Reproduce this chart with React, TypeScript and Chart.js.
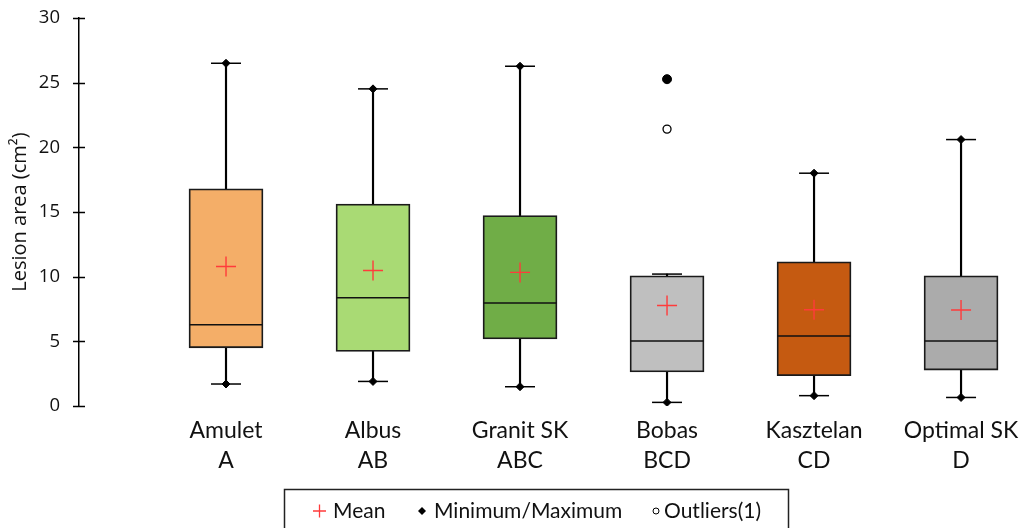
import React, { useEffect, useRef } from 'react';
import { Chart, registerables } from 'chart.js';

Chart.register(...registerables);

// ---- data ----
const categories = ['Amulet', 'Albus', 'Granit SK', 'Bobas', 'Kasztelan', 'Optimal SK'];
const groupLetters = ['A', 'AB', 'ABC', 'BCD', 'CD', 'D'];
const minimum = [1.7, 1.9, 1.49, 0.28, 0.8, 0.66];
const q1 = [4.5, 4.22, 5.18, 2.63, 2.34, 2.78];
const median = [6.28, 8.37, 7.96, 5.02, 5.41, 5.02];
const q3 = [16.79, 15.61, 14.73, 10.07, 11.15, 10.07];
const upperWhisker = [26.5, 24.52, 26.27, 10.2, 18.0, 20.6];
const maximum = [26.5, 24.52, 26.27, 25.27, 18.0, 20.6];
const mean = [10.79, 10.48, 10.33, 7.77, 7.44, 7.42];
const outlierCategory = [4];
const outlierValues = [21.41];
const yTicks = [0, 5, 10, 15, 20, 25, 30];
const boxColors = ['#F4AE68', '#A9DA74', '#70AD47', '#BFBFBF', '#C55A11', '#ABABAB'];

const xs = categories.map((_, i) => i + 1);
const pts = (vals: number[]) => vals.map((y, i) => ({ x: xs[i], y }));

const LABEL_FONT = 'Lato';
const AXIS_FONT = '"Open Sans"';

const yTickMarks = {
  id: 'yTickMarks',
  afterDraw(chart: any) {
    const { ctx, chartArea, scales } = chart;
    const y = scales.y;
    ctx.save();
    ctx.strokeStyle = '#000';
    ctx.lineWidth = 1.5;
    yTicks.forEach((v) => {
      const py = Math.round(y.getPixelForValue(v)) + 0.5;
      ctx.beginPath();
      ctx.moveTo(chartArea.left - 6, py);
      ctx.lineTo(chartArea.left + 6, py);
      ctx.stroke();
    });
    ctx.restore();
  },
};

const boxLegend = {
  id: 'boxLegend',
  afterDraw(chart: any) {
    const { ctx } = chart;
    const ds = chart.data.datasets;
    const meanLabel = ds.find((d: any) => d.legendKey === 'mean').label;
    const mmLabel = ds.find((d: any) => d.legendKey === 'minmax').label;
    const outLabel = ds.find((d: any) => d.legendKey === 'outlier').label;
    const cy = 511;
    ctx.save();
    ctx.strokeStyle = '#222';
    ctx.lineWidth = 1.5;
    ctx.strokeRect(284.5, 489.5, 504, 60);
    ctx.font = `21px ${LABEL_FONT}`;
    ctx.fillStyle = '#111';
    ctx.textBaseline = 'middle';
    ctx.textAlign = 'left';
    // Mean
    ctx.strokeStyle = '#FF3B3B';
    ctx.lineWidth = 1.3;
    ctx.beginPath();
    ctx.moveTo(313, cy);
    ctx.lineTo(326, cy);
    ctx.moveTo(319.5, cy - 6.5);
    ctx.lineTo(319.5, cy + 6.5);
    ctx.stroke();
    ctx.fillText(meanLabel, 333, cy);
    // Min / Max
    ctx.fillStyle = '#000';
    ctx.beginPath();
    ctx.moveTo(422, cy - 4);
    ctx.lineTo(426, cy);
    ctx.lineTo(422, cy + 4);
    ctx.lineTo(418, cy);
    ctx.closePath();
    ctx.fill();
    ctx.fillStyle = '#111';
    ctx.fillText(mmLabel, 434, cy);
    // Outliers
    ctx.strokeStyle = '#000';
    ctx.lineWidth = 1;
    ctx.beginPath();
    ctx.arc(656, cy, 3, 0, Math.PI * 2);
    ctx.stroke();
    ctx.fillText(outLabel, 664, cy);
    ctx.restore();
  },
};

export default function App() {
  const canvasRef = useRef<HTMLCanvasElement | null>(null);

  useEffect(() => {
    document.body.style.margin = '0';
    const canvas = canvasRef.current;
    if (!canvas) return;

    const maxAsDiamond = maximum
      .map((m, i) => ({ x: xs[i], y: m, keep: m === upperWhisker[i] }))
      .filter((p) => p.keep)
      .map(({ x, y }) => ({ x, y }));
    const maxAsOutlier = maximum
      .map((m, i) => ({ x: xs[i], y: m, keep: m > upperWhisker[i] }))
      .filter((p) => p.keep)
      .map(({ x, y }) => ({ x, y }));

    const chart = new Chart(canvas, {
      type: 'bar',
      data: {
        datasets: [
          {
            type: 'scatter',
            label: 'Mean',
            legendKey: 'mean',
            data: pts(mean),
            pointStyle: 'cross',
            pointRadius: 10,
            pointBorderColor: '#FF3B3B',
            pointBorderWidth: 1.4,
            order: 1,
          } as any,
          {
            type: 'scatter',
            label: 'Minimum/Maximum',
            legendKey: 'minmax',
            data: [...pts(minimum), ...maxAsDiamond],
            pointStyle: 'rectRot',
            pointRadius: 4,
            pointBackgroundColor: '#000',
            pointBorderColor: '#000',
            pointBorderWidth: 1,
            order: 2,
          } as any,
          {
            type: 'scatter',
            label: 'Outliers(1)',
            legendKey: 'outlier',
            data: outlierValues.map((y, i) => ({ x: outlierCategory[i], y })),
            pointStyle: 'circle',
            pointRadius: 4,
            pointBackgroundColor: '#fff',
            pointBorderColor: '#000',
            pointBorderWidth: 1.3,
            order: 3,
          } as any,
          {
            type: 'scatter',
            label: 'Maximum (outlier)',
            data: maxAsOutlier,
            pointStyle: 'circle',
            pointRadius: 4.5,
            pointBackgroundColor: '#000',
            pointBorderColor: '#000',
            pointBorderWidth: 1,
            order: 3,
          } as any,
          {
            type: 'scatter',
            label: 'Median',
            data: pts(median),
            pointStyle: 'line',
            pointRadius: 36.5,
            pointBorderColor: '#111',
            pointBorderWidth: 1.6,
            order: 4,
          } as any,
          {
            type: 'scatter',
            label: 'Whisker caps',
            data: [...pts(minimum), ...pts(upperWhisker)],
            pointStyle: 'line',
            pointRadius: 15,
            pointBorderColor: '#000',
            pointBorderWidth: 1.5,
            order: 6,
          } as any,
          {
            type: 'bar',
            label: 'Box',
            data: xs.map((x, i) => ({ x, y: [q1[i], q3[i]] })),
            backgroundColor: boxColors,
            borderColor: '#1a1a1a',
            borderWidth: 1.8,
            borderSkipped: false,
            barThickness: 74,
            stack: 'box',
            order: 10,
          } as any,
          {
            type: 'bar',
            label: 'Whisker',
            data: xs.map((x, i) => ({ x, y: [minimum[i], upperWhisker[i]] })),
            backgroundColor: '#000',
            borderWidth: 0,
            barThickness: 1.5,
            stack: 'box',
            order: 20,
          } as any,
        ],
      },
      options: {
        animation: false,
        responsive: true,
        maintainAspectRatio: false,
        layout: { autoPadding: false, padding: { top: 18, right: 10, left: 0, bottom: 0 } },
        plugins: {
          legend: { display: false },
          tooltip: { enabled: false },
        },
        scales: {
          x: {
            type: 'linear',
            min: 0,
            max: 6.333,
            offset: false,
            grid: { display: false, drawTicks: false, offset: false },
            border: { display: false },
            afterBuildTicks: (s: any) => {
              s.ticks = xs.map((v) => ({ value: v }));
            },
            afterFit: (s: any) => {
              s.height = 122;
              s.paddingLeft = 0;
              s.paddingRight = 0;
            },
            ticks: {
              autoSkip: false,
              maxRotation: 0,
              minRotation: 0,
              padding: 10,
              color: '#111',
              font: { family: LABEL_FONT, size: 23, lineHeight: 30 / 23 },
              callback: (v: any) => {
                const i = Math.round(Number(v)) - 1;
                return [categories[i], groupLetters[i]];
              },
            },
          },
          y: {
            type: 'linear',
            min: 0,
            max: 30,
            stacked: false,
            afterBuildTicks: (s: any) => {
              s.ticks = yTicks.map((v) => ({ value: v }));
            },
            afterFit: (s: any) => {
              s.width = 79;
              s.paddingTop = 0;
              s.paddingBottom = 0;
            },
            grid: { display: false, drawTicks: true, tickLength: 19 },
            border: { display: true, color: '#000', width: 1.5 },
            ticks: {
              padding: 0,
              color: '#111',
              font: { family: AXIS_FONT, size: 18.5 },
            },
            title: {
              display: true,
              text: 'Lesion area (cm²)',
              color: '#111',
              font: { family: AXIS_FONT, size: 20 },
              padding: { top: 8, bottom: 0 },
            },
          },
        },
      } as any,
      plugins: [yTickMarks, boxLegend],
    });

    return () => chart.destroy();
  }, []);

  return (
    <div style={{ width: 1020, height: 528, position: 'relative' }}>
      <canvas ref={canvasRef} />
    </div>
  );
}
